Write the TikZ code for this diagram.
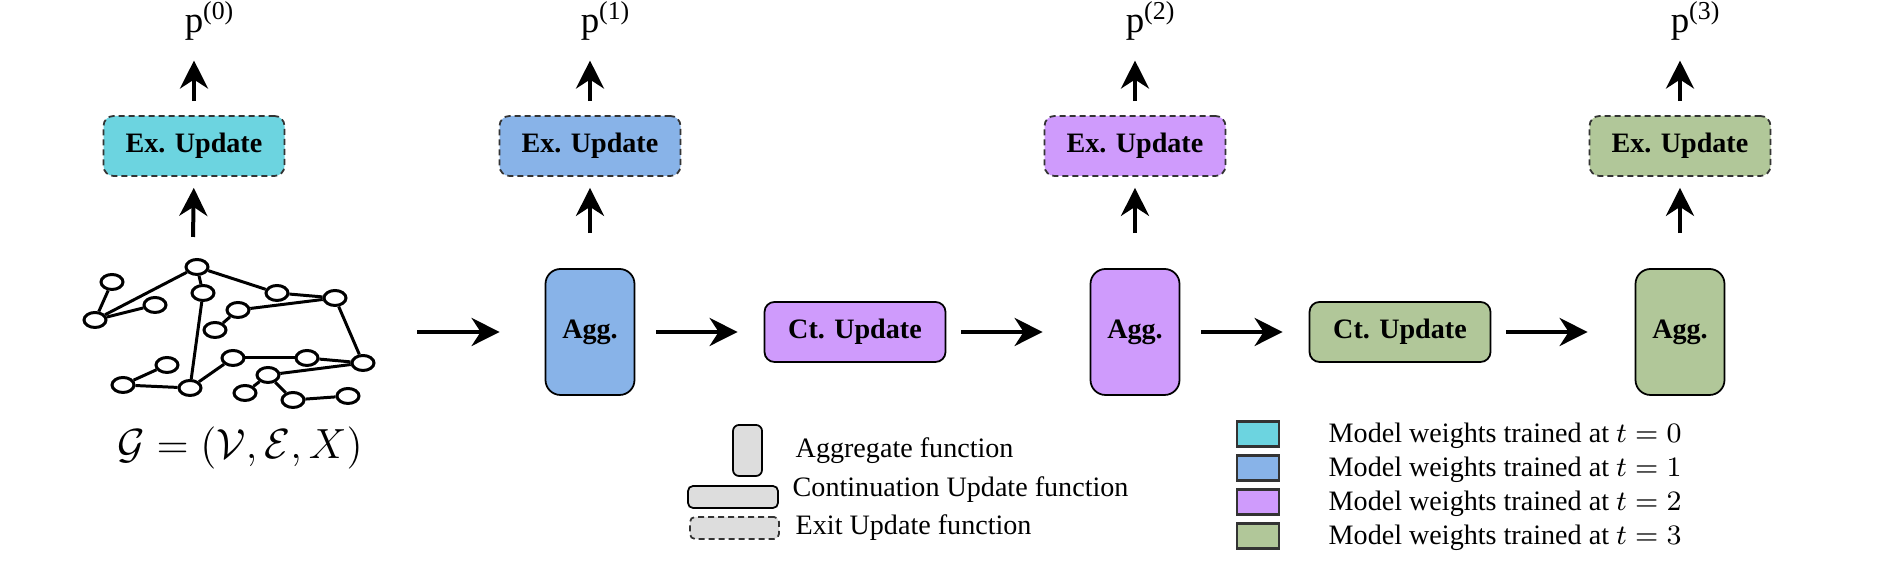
\documentclass[tikz,border=0pt]{standalone}
\usepackage{fontspec}
\setmainfont{Liberation Serif}
\usepackage{amsmath}
\usepackage{tikz}
\usetikzlibrary{shapes}
\usetikzlibrary{arrows.meta}
\definecolor{wzero}{HTML}{6CD4E0}
\definecolor{wone}{HTML}{88B3E8}
\definecolor{wtwo}{HTML}{CF9BFC}
\definecolor{wthree}{HTML}{B1C799}
\definecolor{keygray}{HTML}{DDDDDD}
\newcommand{\outp}[1]{p\rlap{\textsuperscript{(#1)}}}

\begin{document}
\begin{tikzpicture}[
  font=\fontsize{8}{9.6}\selectfont,
  dep/.style ={
    -{Stealth[length=2.8mm,width=2.8mm,inset=0.9mm]},line width=0.4mm
  },
  agg/.style={
    rectangle,
    draw=black,
    line width=0.5pt,
    fill=#1,
    rounded corners=1.5mm,
    minimum width=8.9mm,
    minimum height=12.6mm,
    inner sep=0pt,
    font=\fontsize{8}{9.6}\selectfont\bfseries},
  upd/.style={
    rectangle,
    draw=black,
    line width=0.5pt,
    fill=#1,
    rounded corners=1mm,
    minimum width=18.1mm,
    minimum height=6mm,
    inner sep=0pt,
    font=\fontsize{8}{9.6}\selectfont\bfseries},
  exit/.style={
    upd=#1,
    draw=black!80,
    dash pattern=on 0.6mm off 0.4mm},
  vtx/.style={
    ellipse,
    draw=black,
    fill=white,
    line width=0.85pt,
    minimum width=2.2mm,
    minimum height=1.5mm,
    inner sep=0pt},
  edg/.style={line width=0.85pt},
  wkey/.style={
    rectangle,
    draw=black!80,
    line width=0.6pt,
    fill=#1,
    minimum width=4.2mm,
    minimum height=2.5mm,
    inner sep=0pt},
]
  \useasboundingbox (0,0) rectangle (18.93,5.67);

  \def\stepsize{5.45}%
  \def\lvlbase{2.35}%
  \def\lvlex{4.21}%
  \def\lvlout{5.34}%

    % Input graph
  \foreach \v/\x/\y in {1/1.97/3.00, 2/1.12/2.85, 3/0.95/2.47, 4/1.55/2.62,
      5/2.03/2.74, 6/2.77/2.74, 7/3.35/2.69, 8/2.38/2.57, 9/2.15/2.37,
      10/1.67/2.02, 11/1.23/1.82, 12/1.90/1.79, 13/2.33/2.09, 14/3.07/2.09,
      15/3.63/2.04, 16/2.68/1.92, 17/2.45/1.74, 18/2.93/1.67, 19/3.48/1.71} {
    \node[vtx] (v\v) at (\x,\y) {};
  }
  \foreach \a/\b in {2/3, 3/1, 3/4, 1/5, 1/6, 6/7, 7/8, 8/9, 7/15, 5/12,
      10/11, 11/12, 12/13, 13/14, 14/15, 15/16, 16/17, 16/18, 18/19} {
    \draw[edg] (v\a) -- (v\b);
  }
  \node[font=\fontsize{12}{14}\selectfont] (gform) at (2.40,1.19)
      {$\mathcal{G} = (\mathcal{V}, \mathcal{E}, X)$};
  \coordinate (gtop) at (1.93,3.30);
  \coordinate (gout) at (4.17,\lvlbase);

    % Exit at t = 0
  \node[exit=wzero] (ex0) at (1.94,\lvlex) {Ex. Update};
  \node[inner sep=0pt,anchor=base,font=\fontsize{10.5}{12}\selectfont] (p0)
      at (1.94,\lvlout) {\outp{0}};
  \draw[dep,shorten >=1.1mm] (gtop) -- (ex0.south);
  \draw[dep,shorten <=1.4mm,shorten >=1.9mm] (ex0.north) -- (p0.south);

    % Aggregation steps with their exits
  \foreach \step/\col in {1/wone,2/wtwo,3/wthree} {
    \node[agg=\col] (agg\step) at (\stepsize*\step+0.45, \lvlbase) {Agg.};
    \node[exit=\col] (ex\step) at (\stepsize*\step+0.45, \lvlex) {Ex. Update};
    \node[inner sep=0pt,anchor=base,font=\fontsize{10.5}{12}\selectfont] (p\step)
        at (\stepsize*\step+0.45, \lvlout) {\outp{\step}};

    \draw[dep,shorten <=3.5mm,shorten >=1.1mm] (agg\step.north) -- (ex\step.south);
    \draw[dep,shorten <=1.4mm,shorten >=1.9mm] (ex\step.north) -- (p\step.south);
  }

    % Continuation updates
  \foreach \step/\col [count=\next from 2] in {1/wtwo,2/wthree} {
    \node[upd=\col] (ct\step) at (\stepsize*\step+3.10, \lvlbase) {Ct. Update};
    \draw[dep,shorten <=2.1mm,shorten >=2.6mm] (agg\step.east) -- (ct\step.west);
    \draw[dep,shorten <=1.5mm,shorten >=4.7mm] (ct\step.east) -- (agg\next.west);
  }
  \draw[dep,shorten >=4.5mm] (gout) -- (agg1.west);

    % Legend: functions
  \node[agg=keygray,minimum width=2.9mm,minimum height=5.1mm,rounded corners=0.6mm]
      (kagg) at (7.475,1.165) {};
  \node[upd=keygray,minimum width=9mm,minimum height=2.2mm,rounded corners=0.5mm]
      (kct) at (7.33,0.70) {};
  \node[exit=keygray,minimum width=8.9mm,minimum height=2.2mm,rounded corners=0.5mm]
      (kex) at (7.345,0.39) {};
  \node[anchor=base west,inner sep=0pt] (kaggtxt) at (7.95,1.09) {Aggregate function};
  \node[anchor=base west,inner sep=0pt] (kcttxt) at (7.92,0.70) {Continuation Update function};
  \node[anchor=base west,inner sep=0pt] (kextxt) at (7.95,0.32) {Exit Update function};

    % Legend: weights
  \foreach \t/\col in {0/wzero,1/wone,2/wtwo,3/wthree} {
    \node[wkey=\col] (wk\t) at (12.58, 1.33-0.34*\t) {};
    \node[anchor=base west,inner sep=0pt] (wt\t) at (13.28, 1.24-0.34*\t)
        {Model weights trained at $t = \t$};
  }

\end{tikzpicture}
\end{document}
